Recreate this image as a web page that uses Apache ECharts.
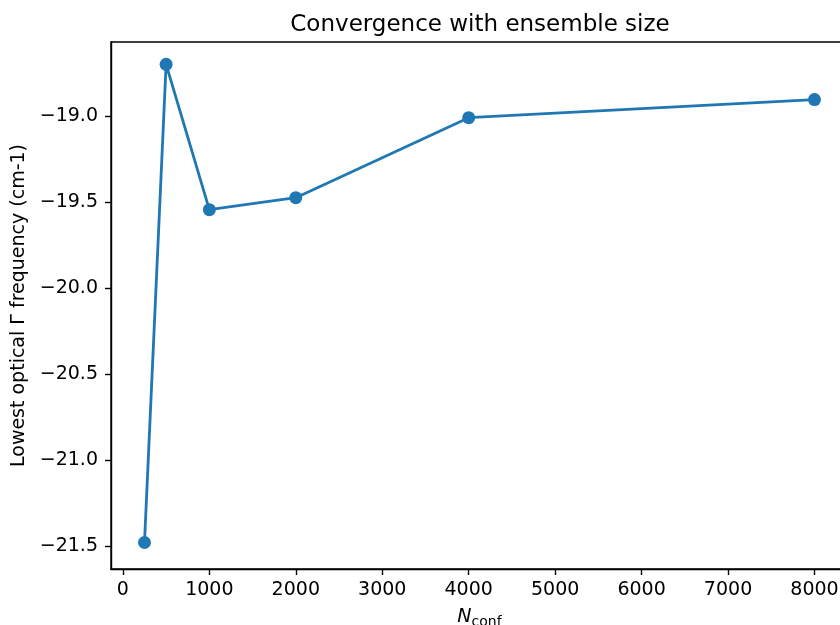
<!DOCTYPE html>
<html>
<head>
<meta charset="utf-8">
<script src="https://cdn.jsdelivr.net/npm/echarts@6/dist/echarts.min.js"></script>
<style>
  html, body { margin: 0; padding: 0; background: #fff; }
  #chart { width: 840px; height: 625px; }
</style>
</head>
<body>
<div id="chart"></div>
<script>
// ensemble size vs lowest optical Gamma frequency
var nConf = [250, 500, 1000, 2000, 4000, 8000];
var freq = [-21.48, -18.70, -19.545, -19.475, -19.01, -18.905];
var xTicks = [0, 1000, 2000, 3000, 4000, 5000, 6000, 7000, 8000];
var yTicks = [-21.5, -21.0, -20.5, -20.0, -19.5, -19.0];

var font = 'DejaVu Sans';

function minusFmt(v, digits) {
    var s = Math.abs(v).toFixed(digits);
    return v < 0 ? '\u2212' + s : s;
}

var chart = echarts.init(document.getElementById('chart'), null, { renderer: 'canvas' });

var option = {
    backgroundColor: '#ffffff',
    animation: false,
    title: {
        text: 'Convergence with ensemble size',
        left: 475,
        textAlign: 'center',
        top: 9,
        textStyle: { fontFamily: font, fontSize: 23, fontWeight: 'normal', color: '#000' }
    },
    grid: {
        left: 111,
        top: 42,
        width: 737,
        height: 527,
        outerBoundsMode: 'none',
        containLabel: false,
        show: true,
        borderColor: '#000',
        borderWidth: 1.4,
        backgroundColor: 'transparent'
    },
    xAxis: {
        type: 'value',
        min: -137.5,
        max: 8387.5,
        name: '{i|N}{s|conf}',
        nameLocation: 'middle',
        nameGap: 36,
        nameTextStyle: {
            rich: {
                i: { fontFamily: font, fontSize: 19, fontStyle: 'italic', color: '#000' },
                s: { fontFamily: font, fontSize: 14, color: '#000', verticalAlign: 'bottom', padding: [10, 0, 0, 0] }
            }
        },
        axisLine: { show: true, onZero: false, lineStyle: { color: '#000', width: 1.4 } },
        axisTick: { show: true, length: 6, customValues: xTicks, lineStyle: { color: '#000', width: 1.4 } },
        axisLabel: {
            customValues: xTicks,
            margin: 12,
            fontFamily: font, fontSize: 19, color: '#000',
            formatter: function (v) { return minusFmt(v, 0); }
        },
        splitLine: { show: false }
    },
    yAxis: {
        type: 'value',
        min: -21.634,
        max: -18.57,
        name: 'Lowest optical \u0393 frequency (cm-1)',
        nameLocation: 'middle',
        nameGap: 77,
        nameTextStyle: { fontFamily: font, fontSize: 19, color: '#000' },
        axisLine: { show: true, onZero: false, lineStyle: { color: '#000', width: 1.4 } },
        axisTick: { show: true, length: 6, customValues: yTicks, lineStyle: { color: '#000', width: 1.4 } },
        axisLabel: {
            customValues: yTicks,
            margin: 13,
            fontFamily: font, fontSize: 19, color: '#000',
            formatter: function (v) { return minusFmt(v, 1); }
        },
        splitLine: { show: false }
    },
    series: [
        {
            type: 'line',
            data: nConf.map(function (n, i) { return [n, freq[i]]; }),
            symbol: 'circle',
            symbolSize: 13,
            showAllSymbol: true,
            lineStyle: { color: '#1f77b4', width: 2.8 },
            itemStyle: { color: '#1f77b4', borderWidth: 0 },
            clip: false
        }
    ]
};

chart.setOption(option);
</script>
</body>
</html>
